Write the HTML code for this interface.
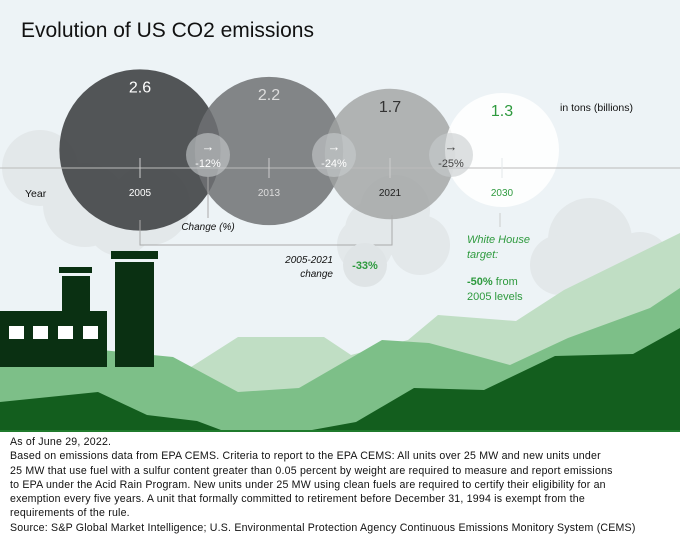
<!DOCTYPE html>
<html><head><meta charset="utf-8"><style>
body{margin:0;width:680px;height:541px;overflow:hidden;background:#fff;font-family:"Liberation Sans",sans-serif}
#wrap{position:relative;width:680px;height:541px}
svg{position:absolute;left:0;top:0}
#foot{position:absolute;left:10px;top:435px;width:668px;font-size:10.6px;line-height:14.3px;color:#111;white-space:nowrap;letter-spacing:0.2px}
#foot div{margin:0}
</style></head><body><div id="wrap">
<svg id="chart" width="680" height="432" viewBox="0 0 680 432">
<rect width="680" height="432" fill="#edf3f6"/>
<text x="21" y="37" font-size="21" fill="#111">Evolution of US CO2 emissions</text>
<g fill="#e3e8ea">
<circle cx="40" cy="168" r="38"/><circle cx="85" cy="205" r="42"/><circle cx="150" cy="205" r="40"/><circle cx="120" cy="222" r="34"/>
<circle cx="395" cy="210" r="35"/><circle cx="365" cy="245" r="28"/><circle cx="420" cy="245" r="30"/><circle cx="375" cy="230" r="30"/>
<circle cx="590" cy="240" r="42"/><circle cx="560" cy="265" r="30"/><circle cx="640" cy="262" r="30"/>
</g>
<g id="mountains">
<polygon fill="#c0dec4" points="191,367 238,337 324,337 351,355 408,340 438,315 516,321 564,290 680,233 680,432 191,432"/>
<polygon fill="#7dbf88" points="0,340 173,357 238,392 299,388 382,340 429,343 510,365 568,338 650,308 680,288 680,432 0,432"/>
<polygon fill="#135e1e" points="0,402 98,392 147,415 197,421 221,430 312,430 356,422 414,388 484,390 555,356 633,354 680,328 680,432 0,432"/>
<rect x="0" y="430" width="680" height="2" fill="#1f7a2c"/>
</g>
<g fill="#0a3012">
<rect x="0" y="311" width="107" height="56"/>
<rect x="62" y="276" width="28" height="35"/><rect x="59" y="267" width="33" height="6"/>
<rect x="115" y="262" width="39" height="105"/><rect x="111" y="251" width="47" height="8"/>
<g fill="#fff"><rect x="9" y="326" width="15" height="13"/><rect x="33" y="326" width="15" height="13"/><rect x="58" y="326" width="15" height="13"/><rect x="83" y="326" width="15" height="13"/></g>
</g>
<g id="bubbles"></g>
<line x1="0" y1="168" x2="680" y2="168" stroke="#bbb" stroke-width="1"/>
<g id="overlay"></g>
<text x="25" y="197" font-size="10.5" fill="#111">Year</text>
<text x="560" y="111" font-size="10.5" fill="#111">in tons (billions)</text>
<line x1="208" y1="177" x2="208" y2="218" stroke="#aaa"/>
<text x="208" y="230" font-size="10" font-style="italic" text-anchor="middle" fill="#111">Change (%)</text>
<polyline points="140,220 140,245 392,245 392,215" fill="none" stroke="#aaa"/>
<circle cx="365" cy="265" r="22" fill="#dfe4e6"/>
<text x="333" y="263" font-size="10" font-style="italic" text-anchor="end" fill="#111">2005-2021</text>
<text x="333" y="277" font-size="10" font-style="italic" text-anchor="end" fill="#111">change</text>
<text x="365" y="269" font-size="11" font-weight="bold" text-anchor="middle" fill="#2e9a3e">-33%</text>
<line x1="500" y1="213" x2="500" y2="227" stroke="#ccc"/>
<g fill="#2e9a3e" font-size="11">
<text x="467" y="243" font-style="italic">White House</text>
<text x="467" y="258" font-style="italic">target:</text>
<text x="467" y="285"><tspan font-weight="bold">-50%</tspan> from</text>
<text x="467" y="300">2005 levels</text>
</g>
</svg>
<div id="foot">
<div>As of June 29, 2022.</div>
<div>Based on emissions data from EPA CEMS. Criteria to report to the EPA CEMS: All units over 25 MW and new units under</div>
<div>25 MW that use fuel with a sulfur content greater than 0.05 percent by weight are required to measure and report emissions</div>
<div>to EPA under the Acid Rain Program. New units under 25 MW using clean fuels are required to certify their eligibility for an</div>
<div>exemption every five years. A unit that formally committed to retirement before December 31, 1994 is exempt from the</div>
<div>requirements of the rule.</div>
<div>Source: S&amp;P Global Market Intelligence; U.S. Environmental Protection Agency Continuous Emissions Monitory System (CEMS)</div>
</div>
</div>
<script>
const years = ["2005","2013","2021","2030"];
const emissions = [2.6, 2.2, 1.7, 1.3];
const changes = ["-12%","-24%","-25%"];
const NS="http://www.w3.org/2000/svg";
const xPos = i => [140,269,390,502][i];
const rScale = v => 50*Math.sqrt(v);
const cyc = [150,151,154,150];
const fills=["rgba(70,72,74,0.93)","rgba(110,113,115,0.85)","rgba(160,162,163,0.8)","rgba(255,255,255,0.85)"];
const txt=["#fff","#ddd","#333","#2e9a3e"];
const bg=document.getElementById('bubbles'), ov=document.getElementById('overlay');
function mk(t,a,p){const e=document.createElementNS(NS,t);for(const k in a)e.setAttribute(k,a[k]);p.appendChild(e);return e;}
emissions.forEach((v,i)=>{
  const r=rScale(v), cx=xPos(i), cy=cyc[i];
  const c=mk('circle',{cx:cx,cy:cy,r:r,fill:fills[i]},bg);
  
  
  const t=mk('text',{x:cx,y:cy-r+23,'font-size':16,'text-anchor':'middle',fill:txt[i]},ov);
  t.textContent=v.toFixed(1);
  
  
  mk('line',{x1:cx,y1:158,x2:cx,y2:178,stroke:i==3?'#e4e8ea':'#ccc'},ov);
  const y=mk('text',{x:cx,y:196,'font-size':10,'text-anchor':'middle',fill:i<2?(i==0?'#fff':'#ddd'):(i==2?'#222':'#2e9a3e')},ov);
  y.textContent=years[i];
  
  
});
changes.forEach((c,i)=>{
  const cx=[208,334,451][i];
  const g=mk('circle',{cx:cx,cy:155,r:22,fill:'rgba(200,203,205,0.6)'},ov);
  
  
  const col=i==2?'#444':'#fff';
  mk('text',{x:cx,y:151,'font-size':13,'text-anchor':'middle',fill:col},ov).textContent='→';
  const t=mk('text',{x:cx,y:167,'font-size':11,'text-anchor':'middle',fill:col},ov);
  t.textContent=c;
  
  
});
</script>
</body></html>
